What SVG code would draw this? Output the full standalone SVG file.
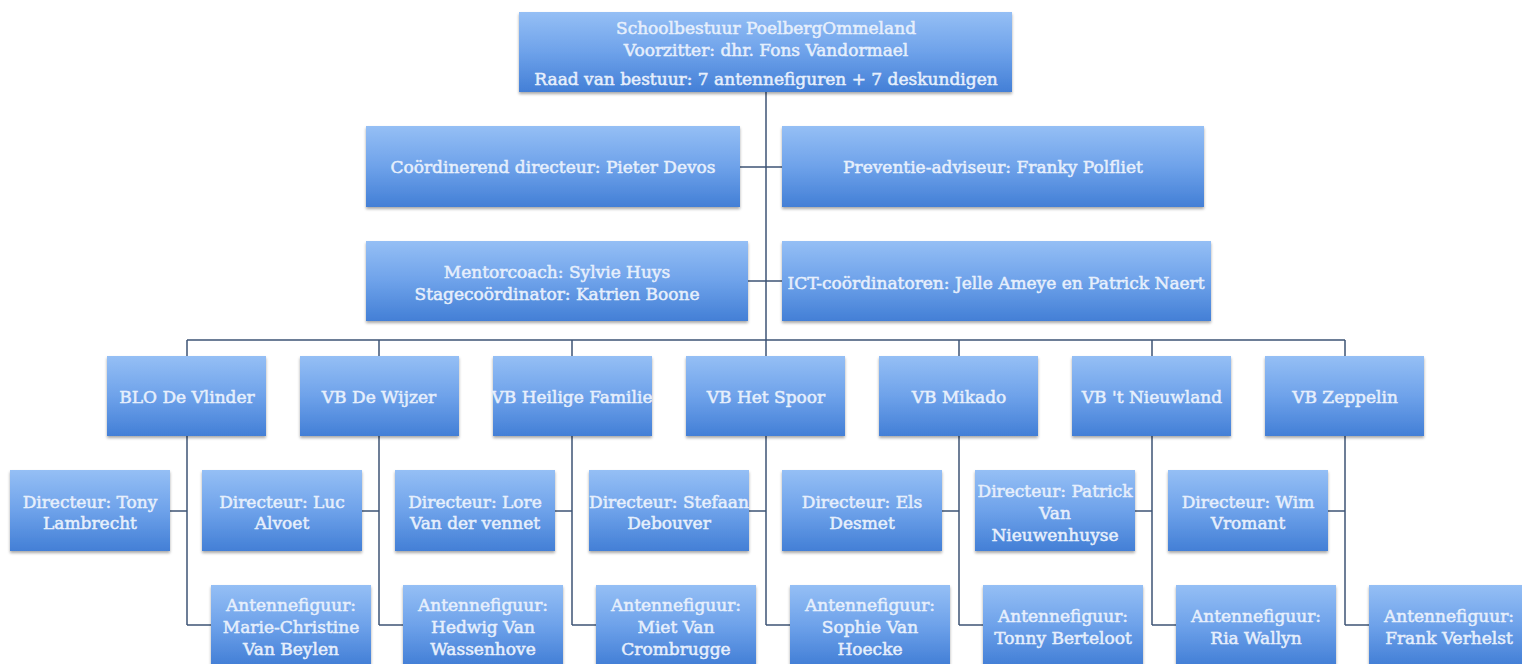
<svg xmlns="http://www.w3.org/2000/svg" width="1522" height="664" viewBox="0 0 1522 664">
<defs>
<linearGradient id="g" x1="0" y1="0" x2="0" y2="1">
<stop offset="0" stop-color="#95bff5"/>
<stop offset="0.5" stop-color="#6ea2ea"/>
<stop offset="1" stop-color="#437fd6"/>
</linearGradient>
<filter id="sh" x="-10%" y="-10%" width="120%" height="130%">
<feGaussianBlur in="SourceAlpha" stdDeviation="1.8"/>
<feOffset dx="0" dy="2" result="b"/>
<feComponentTransfer><feFuncA type="linear" slope="0.35"/></feComponentTransfer>
<feMerge><feMergeNode/><feMergeNode in="SourceGraphic"/></feMerge>
</filter>
</defs>
<style>
.box{fill:url(#g);filter:url(#sh);}
.t{font-family:"DejaVu Serif","Liberation Serif",serif;font-size:17px;fill:#e6effc;stroke:#e6effc;stroke-width:0.5;text-anchor:middle;}
.c{fill:none;stroke:#3e5475;stroke-width:1.5;}
</style>
<rect width="1522" height="664" fill="#ffffff"/>
<g id="connectors">
<path class="c" d="M766 92V340M740 167H782M748 281H782M187 340H1345"/>
<path class="c" d="M187 340V356M379 340V356M572 340V356M766 340V356M959 340V356M1152 340V356M1345 340V356"/>
<path class="c" d="M187 436V625M170 511H187M187 625H211"/>
<path class="c" d="M379 436V625M362 511H379M379 625H403"/>
<path class="c" d="M572 436V625M555 511H572M572 625H596"/>
<path class="c" d="M766 436V625M749 511H766M766 625H790"/>
<path class="c" d="M959 436V625M942 511H959M959 625H983"/>
<path class="c" d="M1152 436V625M1135 511H1152M1152 625H1176"/>
<path class="c" d="M1345 436V625M1328 511H1345M1345 625H1369"/>
</g>
<g id="bestuur"><rect class="box" x="519" y="12" width="493" height="80"/>
<text class="t" x="766" y="34">Schoolbestuur PoelbergOmmeland</text>
<text class="t" x="766" y="56">Voorzitter: dhr. Fons Vandormael</text>
<text class="t" x="766" y="85">Raad van bestuur: 7 antennefiguren + 7 deskundigen</text></g>
<g id="coord"><rect class="box" x="366" y="126" width="374" height="81"/>
<text class="t" x="553" y="173">Coördinerend directeur: Pieter Devos</text></g>
<g id="preventie"><rect class="box" x="782" y="126" width="422" height="81"/>
<text class="t" x="993" y="173">Preventie-adviseur: Franky Polfliet</text></g>
<g id="mentor"><rect class="box" x="366" y="241" width="382" height="80"/>
<text class="t" x="557" y="278">Mentorcoach: Sylvie Huys</text>
<text class="t" x="557" y="300">Stagecoördinator: Katrien Boone</text></g>
<g id="ict"><rect class="box" x="782" y="241" width="429" height="80"/>
<text class="t" x="996" y="289">ICT-coördinatoren: Jelle Ameye en Patrick Naert</text></g>

<g id="s1"><rect class="box" x="107" y="356" width="159" height="80"/><text class="t" x="187" y="403">BLO De Vlinder</text></g>
<g id="s2"><rect class="box" x="300" y="356" width="159" height="80"/><text class="t" x="379" y="403">VB De Wijzer</text></g>
<g id="s3"><rect class="box" x="493" y="356" width="159" height="80"/><text class="t" x="572" y="403">VB Heilige Familie</text></g>
<g id="s4"><rect class="box" x="686" y="356" width="159" height="80"/><text class="t" x="766" y="403">VB Het Spoor</text></g>
<g id="s5"><rect class="box" x="879" y="356" width="159" height="80"/><text class="t" x="959" y="403">VB Mikado</text></g>
<g id="s6"><rect class="box" x="1072" y="356" width="159" height="80"/><text class="t" x="1152" y="403">VB 't Nieuwland</text></g>
<g id="s7"><rect class="box" x="1265" y="356" width="159" height="80"/><text class="t" x="1345" y="403">VB Zeppelin</text></g>

<g id="d1"><rect class="box" x="10" y="470" width="160" height="81"/><text class="t" x="90" y="508">Directeur: Tony</text><text class="t" x="90" y="529">Lambrecht</text></g>
<g id="d2"><rect class="box" x="202" y="470" width="160" height="81"/><text class="t" x="282" y="508">Directeur: Luc</text><text class="t" x="282" y="529">Alvoet</text></g>
<g id="d3"><rect class="box" x="395" y="470" width="160" height="81"/><text class="t" x="475" y="508">Directeur: Lore</text><text class="t" x="475" y="529">Van der vennet</text></g>
<g id="d4"><rect class="box" x="589" y="470" width="160" height="81"/><text class="t" x="669" y="508">Directeur: Stefaan</text><text class="t" x="669" y="529">Debouver</text></g>
<g id="d5"><rect class="box" x="782" y="470" width="160" height="81"/><text class="t" x="862" y="508">Directeur: Els</text><text class="t" x="862" y="529">Desmet</text></g>
<g id="d6"><rect class="box" x="975" y="470" width="160" height="81"/><text class="t" x="1055" y="497">Directeur: Patrick</text><text class="t" x="1055" y="519">Van</text><text class="t" x="1055" y="541">Nieuwenhuyse</text></g>
<g id="d7"><rect class="box" x="1168" y="470" width="160" height="81"/><text class="t" x="1248" y="508">Directeur: Wim</text><text class="t" x="1248" y="529">Vromant</text></g>

<g id="a1"><rect class="box" x="211" y="585" width="160" height="80"/><text class="t" x="291" y="611">Antennefiguur:</text><text class="t" x="291" y="633">Marie-Christine</text><text class="t" x="291" y="655">Van Beylen</text></g>
<g id="a2"><rect class="box" x="403" y="585" width="160" height="80"/><text class="t" x="483" y="611">Antennefiguur:</text><text class="t" x="483" y="633">Hedwig Van</text><text class="t" x="483" y="655">Wassenhove</text></g>
<g id="a3"><rect class="box" x="596" y="585" width="160" height="80"/><text class="t" x="676" y="611">Antennefiguur:</text><text class="t" x="676" y="633">Miet Van</text><text class="t" x="676" y="655">Crombrugge</text></g>
<g id="a4"><rect class="box" x="790" y="585" width="160" height="80"/><text class="t" x="870" y="611">Antennefiguur:</text><text class="t" x="870" y="633">Sophie Van</text><text class="t" x="870" y="655">Hoecke</text></g>
<g id="a5"><rect class="box" x="983" y="585" width="160" height="80"/><text class="t" x="1063" y="622">Antennefiguur:</text><text class="t" x="1063" y="644">Tonny Berteloot</text></g>
<g id="a6"><rect class="box" x="1176" y="585" width="160" height="80"/><text class="t" x="1256" y="622">Antennefiguur:</text><text class="t" x="1256" y="644">Ria Wallyn</text></g>
<g id="a7"><rect class="box" x="1369" y="585" width="160" height="80"/><text class="t" x="1449" y="622">Antennefiguur:</text><text class="t" x="1449" y="644">Frank Verhelst</text></g>
</svg>
